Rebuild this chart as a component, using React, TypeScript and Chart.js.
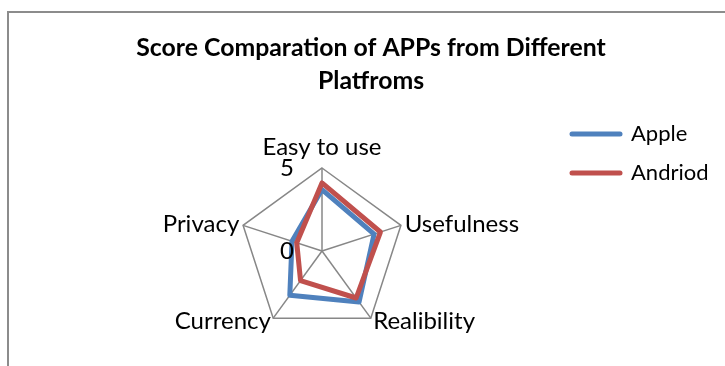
import { useEffect, useRef } from 'react';
import { Chart, registerables } from 'chart.js';

Chart.register(...registerables);

const categories = ['Easy to use', 'Usefulness', 'Realibility', 'Currency', 'Privacy'];
const seriesNames = ['Apple', 'Andriod'];
const appleScores = [3.7, 3.3, 3.8, 3.3, 1.9];
const andriodScores = [4.1, 3.7, 3.5, 2.2, 1.6];
const seriesColors = ['#4F81BD', '#C0504D'];
const tickValues = [0, 5];
const titleLines = ['Score Comparation of APPs from Different', 'Platfroms'];

const FONT = 'Lato';
const LABEL_SIZE = 24;
const LEGEND_SIZE = 22;

const radarText = {
  id: 'radarText',
  afterDraw(chart: any) {
    const scale = chart.scales.r;
    const ctx = chart.ctx;
    ctx.save();
    ctx.fillStyle = '#000000';
    ctx.font = `${LABEL_SIZE}px ${FONT}`;
    (chart.data.labels as string[]).forEach((label, i) => {
      const p = scale.getPointPosition(i, scale.drawingArea + 4);
      const a = scale.getIndexAngle(i);
      const s = Math.sin(a);
      const c = Math.cos(a);
      ctx.textAlign = Math.abs(s) < 0.05 ? 'center' : s > 0 ? 'left' : 'right';
      if (c > 0.95) {
        ctx.textBaseline = 'alphabetic';
        ctx.fillText(label, p.x, p.y - 9);
      } else {
        ctx.textBaseline = 'middle';
        ctx.fillText(label, p.x, p.y);
      }
    });
    ctx.textAlign = 'right';
    ctx.textBaseline = 'middle';
    tickValues.forEach((v) => {
      const p = scale.getPointPositionForValue(0, v);
      ctx.fillText(String(v), scale.xCenter - 28, p.y);
    });
    ctx.restore();
  },
};

export default function App() {
  const ref = useRef<HTMLCanvasElement | null>(null);

  useEffect(() => {
    if (!ref.current) return;
    Chart.defaults.font.family = FONT;
    const chart = new Chart(ref.current, {
      type: 'radar',
      data: {
        labels: categories,
        datasets: [
          {
            label: seriesNames[0],
            data: appleScores,
            borderColor: seriesColors[0],
            backgroundColor: seriesColors[0],
            pointBorderColor: seriesColors[0],
            borderWidth: 5,
            pointRadius: 0,
            pointHoverRadius: 0,
            pointBorderWidth: 5,
            borderJoinStyle: 'round',
            fill: false,
            order: 1,
          },
          {
            label: seriesNames[1],
            data: andriodScores,
            borderColor: seriesColors[1],
            backgroundColor: seriesColors[1],
            pointBorderColor: seriesColors[1],
            borderWidth: 5,
            pointRadius: 0,
            pointHoverRadius: 0,
            pointBorderWidth: 5,
            borderJoinStyle: 'round',
            fill: false,
            order: 0,
          },
        ],
      },
      options: {
        responsive: false,
        animation: false,
        devicePixelRatio: 1,
        layout: { padding: { left: 29, right: 12, top: 0, bottom: 32 } },
        scales: {
          r: {
            min: 0,
            max: 5,
            ticks: { display: false, stepSize: 5 },
            pointLabels: { display: false },
            grid: { color: '#878787', lineWidth: 1.5 },
            angleLines: { color: '#878787', lineWidth: 1.5 },
          },
        },
        plugins: {
          tooltip: { enabled: false },
          title: {
            display: true,
            text: titleLines,
            color: '#000000',
            font: { family: FONT, size: 24.8, weight: 'bold', lineHeight: 33 / 24.8 },
            padding: { top: 32, bottom: 70 },
          },
          subtitle: {
            display: true,
            position: 'left',
            fullSize: true,
            text: '',
            font: { size: 10, lineHeight: 1 },
            padding: { top: 50, bottom: 0 },
          },
          legend: {
            position: 'right',
            align: 'start',
            fullSize: true,
            maxWidth: 158,
            title: {
              display: true,
              text: '',
              font: { size: 10, lineHeight: 1 },
              padding: { top: 96, bottom: 0 },
            },
            labels: {
              usePointStyle: true,
              pointStyle: 'line',
              pointStyleWidth: 48,
              padding: 17,
              color: '#000000',
              font: { family: FONT, size: LEGEND_SIZE },
              generateLabels: (c: any) =>
                Chart.defaults.plugins.legend.labels
                  .generateLabels(c)
                  .map((l: any) => ({
                    ...l,
                    lineWidth: 5,
                    lineCap: 'round',
                    strokeStyle: seriesColors[l.datasetIndex],
                  }))
                  .sort((a: any, b: any) => a.datasetIndex - b.datasetIndex),
            },
          },
        },
      },
      plugins: [radarText],
    } as any);
    return () => chart.destroy();
  }, []);

  return (
    <div
      style={{
        position: 'fixed',
        left: 0,
        top: 0,
        width: 725,
        height: 366,
        overflow: 'hidden',
        background: '#ffffff',
      }}
    >
      <div
        style={{
          position: 'absolute',
          left: 7,
          top: 11,
          width: 800,
          height: 400,
          borderLeft: '2px solid #8c8c8c',
          borderTop: '2px solid #8c8c8c',
        }}
      />
      <canvas
        ref={ref}
        width={725}
        height={366}
        style={{ position: 'absolute', left: 0, top: 0, display: 'block', width: 725, height: 366 }}
      />
    </div>
  );
}
